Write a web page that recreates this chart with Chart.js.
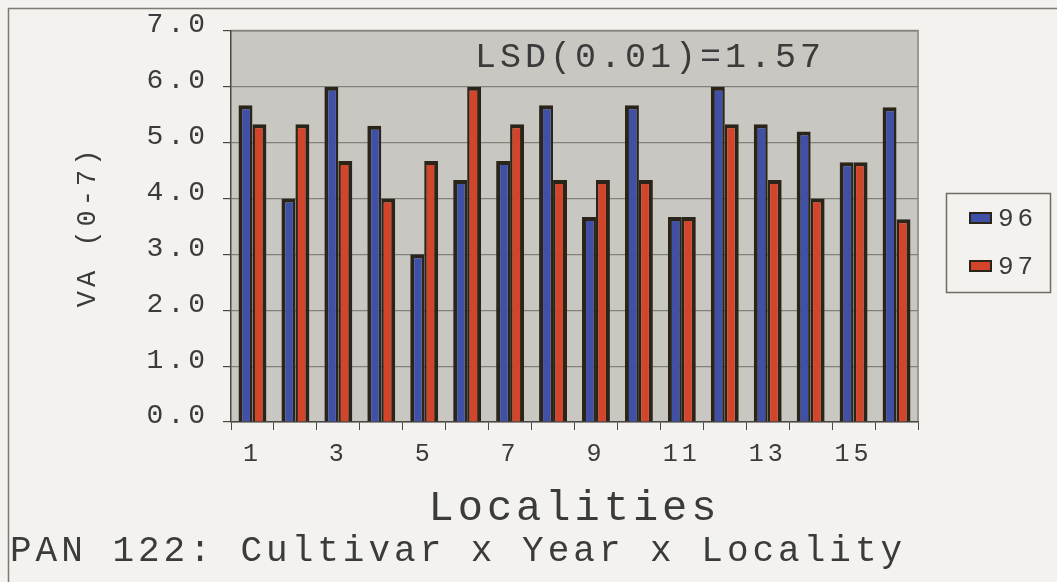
<!DOCTYPE html>
<html lang="en">
<head>
    <meta charset="UTF-8">
    <title>PAN 122: Cultivar x Year x Locality</title>
    <script src="https://cdn.jsdelivr.net/npm/chart.js"></script>
    <style>
        body { margin: 0; background: #f3f2ee; }
        #wrap { width: 1057px; height: 582px; }
    </style>
</head>
<body>
    <div id="wrap"><canvas id="vaChart" width="1057" height="582"></canvas></div>

    <script>
        // Data
        const localities = ['1','2','3','4','5','6','7','8','9','10','11','12','13','14','15','16'];
        const va96 = [5.67, 4.0, 6.0, 5.3, 3.0, 4.33, 4.67, 5.67, 3.67, 5.67, 3.67, 6.0, 5.33, 5.2, 4.65, 5.63];
        const va97 = [5.33, 5.33, 4.67, 4.0, 4.67, 6.0, 5.33, 4.33, 4.33, 4.33, 3.67, 5.33, 4.33, 4.0, 4.65, 3.63];
        const seriesNames = ['96', '97'];
        const lsdText = 'LSD(0.01)=1.57';

        const MONO = '"Liberation Mono", "Courier New", monospace';
        const BLUE = '#3f50a6';
        const RED = '#d2452b';
        const EDGE = '#2b2519';
        const INK = '#3b3b3b';

        // page background, outer frame, plot background + global letter spacing
        const backdrop = {
            id: 'backdrop',
            beforeUpdate(chart) {
                chart.ctx.letterSpacing = '4px';
            },
            beforeDraw(chart) {
                const ctx = chart.ctx;
                const a = chart.chartArea;
                ctx.letterSpacing = '4px';
                ctx.save();
                ctx.fillStyle = '#f3f2ee';
                ctx.fillRect(0, 0, chart.width, chart.height);
                ctx.strokeStyle = '#7d7a74';
                ctx.lineWidth = 1.5;
                ctx.beginPath();
                ctx.moveTo(8.5, chart.height);
                ctx.lineTo(8.5, 8.5);
                ctx.lineTo(chart.width, 8.5);
                ctx.stroke();
                ctx.fillStyle = '#c9c7c2';
                ctx.fillRect(a.left, a.top, a.right - a.left, a.bottom - a.top);
                ctx.strokeStyle = '#9c9891';
                ctx.lineWidth = 2;
                ctx.beginPath();
                ctx.moveTo(a.left, a.top);
                ctx.lineTo(a.right, a.top);
                ctx.lineTo(a.right, a.bottom);
                ctx.stroke();
                ctx.restore();
            }
        };

        // LSD note and boxed legend
        const notes = {
            id: 'notes',
            afterDraw(chart) {
                const ctx = chart.ctx;
                const a = chart.chartArea;
                ctx.save();
                ctx.letterSpacing = '4px';
                ctx.fillStyle = INK;
                ctx.font = '35px ' + MONO;
                ctx.textBaseline = 'middle';
                ctx.textAlign = 'left';
                ctx.fillText(lsdText, a.left + 244, a.top + 27);

                // legend
                ctx.strokeStyle = '#6f6c66';
                ctx.lineWidth = 1.5;
                ctx.strokeRect(946.5, 193.5, 104, 99);
                const colors = [BLUE, RED];
                ctx.font = '26px ' + MONO;
                seriesNames.forEach((name, i) => {
                    const y = 218 + i * 48;
                    ctx.fillStyle = EDGE;
                    ctx.fillRect(969, y - 6, 23, 12);
                    ctx.fillStyle = colors[i];
                    ctx.fillRect(971, y - 4, 19, 8);
                    ctx.fillStyle = INK;
                    ctx.fillText(name, 998, y + 1);
                });
                ctx.restore();
            }
        };

        const ctx = document.getElementById('vaChart').getContext('2d');
        const vaChart = new Chart(ctx, {
            type: 'bar',
            data: {
                labels: localities,
                datasets: [{
                    label: seriesNames[0],
                    data: va96,
                    backgroundColor: BLUE,
                    borderColor: EDGE,
                    borderWidth: { top: 4, left: 4, right: 2.5, bottom: 0 },
                    borderSkipped: false
                }, {
                    label: seriesNames[1],
                    data: va97,
                    backgroundColor: RED,
                    borderColor: EDGE,
                    borderWidth: { top: 4, left: 2.5, right: 4, bottom: 0 },
                    borderSkipped: false
                }]
            },
            options: {
                responsive: false,
                animation: false,
                layout: {
                    padding: { left: 10, right: 139, top: 30, bottom: 13 }
                },
                datasets: {
                    bar: {
                        categoryPercentage: 0.65,
                        barPercentage: 1.0
                    }
                },
                plugins: {
                    legend: { display: false },
                    tooltip: { enabled: false },
                    title: {
                        display: true,
                        text: 'PAN 122: Cultivar x Year x Locality',
                        position: 'bottom',
                        align: 'start',
                        color: INK,
                        font: { family: MONO, size: 36, weight: 'normal', lineHeight: 1 },
                        padding: 0
                    }
                },
                scales: {
                    x: {
                        afterFit(scale) { scale.height = 111; },
                        border: { color: '#4a4844', width: 1.5 },
                        grid: {
                            display: true,
                            drawOnChartArea: false,
                            drawTicks: true,
                            tickLength: 8,
                            tickColor: '#4a4844',
                            offset: true
                        },
                        ticks: {
                            autoSkip: false,
                            maxRotation: 0,
                            padding: 9,
                            color: INK,
                            font: { family: MONO, size: 25 },
                            callback: (v, i) => (i % 2 === 0 ? localities[i] : '')
                        },
                        title: {
                            display: true,
                            text: 'Localities',
                            color: INK,
                            font: { family: MONO, size: 42, lineHeight: 1 },
                            padding: { top: 0, bottom: 3 }
                        }
                    },
                    y: {
                        min: 0,
                        max: 7,
                        afterFit(scale) { scale.width = 221; },
                        border: { color: '#4a4844', width: 1.5 },
                        grid: {
                            color: '#85817a',
                            lineWidth: 1.2,
                            drawTicks: true,
                            tickLength: 8,
                            tickColor: '#4a4844'
                        },
                        ticks: {
                            stepSize: 1,
                            padding: 14,
                            labelOffset: -6,
                            color: INK,
                            font: { family: MONO, size: 28 },
                            callback: v => v.toFixed(1)
                        },
                        title: {
                            display: true,
                            text: 'VA (0-7)',
                            color: INK,
                            font: { family: MONO, size: 27, lineHeight: 1.2 },
                            padding: { top: 62, bottom: 0 }
                        }
                    }
                }
            },
            plugins: [backdrop, notes]
        });
    </script>
</body>
</html>
